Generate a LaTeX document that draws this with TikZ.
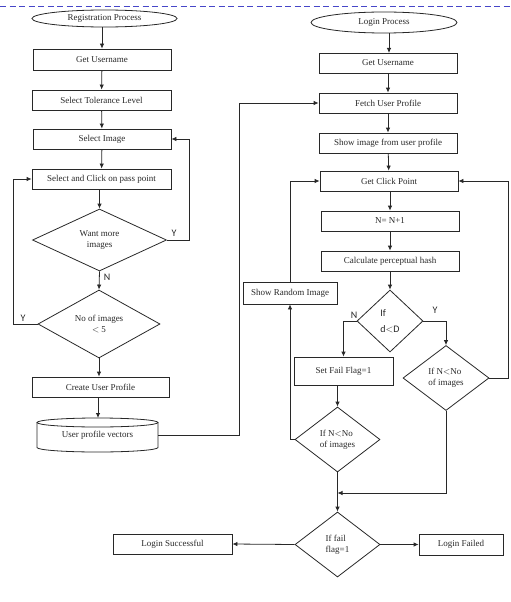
\documentclass[tikz,border=0pt]{standalone}
\usepackage{fontspec}
\setmainfont{Liberation Serif}
\newfontfamily\lblfont{Carlito}
\usetikzlibrary{shapes.geometric,arrows.meta}
\definecolor{linec}{RGB}{40,40,40}
\definecolor{dashblue}{RGB}{70,70,200}
\begin{document}
\begin{tikzpicture}[x=1pt,y=-1pt,
  every node/.style={font=\fontsize{9pt}{11pt}\selectfont, text=linec},
  box/.style={draw=linec, line width=0.8pt, rectangle, inner sep=0pt},
  dia/.style={draw=linec, line width=0.8pt, diamond, inner sep=0pt, align=center},
  ell/.style={draw=linec, line width=0.8pt, ellipse, inner sep=0pt},
  ln/.style={draw=linec, line width=0.8pt},
  arr/.style={draw=linec, line width=0.8pt, -{Latex[length=5pt,width=4.5pt]}},
  lab/.style={font=\lblfont\fontsize{10pt}{12pt}\selectfont, inner sep=0pt}]
\useasboundingbox (0,0) rectangle (511,602);
\draw[dashblue, line width=0.8pt, dash pattern=on 6pt off 3.5pt] (0,6) -- (511,6);

% ---------- Registration ----------
\node[ell, minimum width=145pt, minimum height=17pt] (reg) at (104.5,18.5) {Registration Process};
\node[box, minimum width=138pt, minimum height=21pt] (lgu) at (102,59.5) {Get Username};
\node[box, minimum width=139pt, minimum height=20pt] (tol) at (101.5,100) {Select Tolerance Level};
\node[box, minimum width=138pt, minimum height=20pt] (simg) at (102,139) {Select Image};
\node[box, minimum width=139pt, minimum height=20pt] (click) at (101.5,179) {Select and Click on pass point};
\node[dia, minimum width=134pt, minimum height=62pt] (want) at (99.5,240) {Want more\\images};
\node[dia, minimum width=122pt, minimum height=68pt] (noimg) at (99,324) {No of images\\$<$ 5};
\node[box, minimum width=137pt, minimum height=20pt] (create) at (100.5,387) {Create User Profile};
\node[inner sep=0pt, minimum width=121pt, minimum height=34pt] (cyl) at (97.5,435) {User profile vectors};
\draw[ln] (97.5,422.5) ellipse [x radius=60.5pt, y radius=4.5pt];
\draw[ln] (37,422.5) -- (37,447.5) arc[start angle=180, end angle=360, x radius=60.5pt, y radius=4.5pt] -- (158,422.5);

\draw[arr] (reg.south -| lgu) -- (lgu.north);
\draw[arr] (lgu) -- (tol);
\draw[arr] (tol) -- (simg);
\draw[arr] (simg) -- (click);
\draw[arr] (click.south -| want) -- (want.north);
\draw[arr] (want.south) -- (noimg.north);
\draw[arr] (noimg.south) -- (noimg.south |- create.north);
\draw[arr] (create.south -| 98,0) -- (98,418);
\draw[arr] (want.east) -- ++(22,0) |- (simg.east);
\draw[arr] (noimg.west) -- ++(-24,0) |- (click.west);
\node[lab] (ly1) at (174,233) {Y};
\node[lab] (ln1) at (107,277) {N};
\node[lab] (ly2) at (23,318) {Y};

% ---------- Login ----------
\node[ell, minimum width=146pt, minimum height=21pt] (login) at (384,22.5) {Login Process};
\node[box, minimum width=138pt, minimum height=20pt] (rgu) at (388,63) {Get Username};
\node[box, minimum width=138pt, minimum height=20pt] (fetch) at (388,103) {Fetch User Profile};
\node[box, minimum width=138pt, minimum height=20pt] (show) at (388,143) {Show image from user profile};
\node[box, minimum width=138pt, minimum height=20pt] (gcp) at (389,181) {Get Click Point};
\node[box, minimum width=138pt, minimum height=20pt] (nn) at (390,221) {N= N+1};
\node[box, minimum width=138pt, minimum height=20pt] (calc) at (390,261) {Calculate perceptual hash};
\node[dia, minimum width=66pt, minimum height=62pt, align=left, font=\lblfont\fontsize{10pt}{16pt}\selectfont] (dd) at (390,321) {If\\d$<$D};
\node[box, minimum width=99pt, minimum height=28pt] (sff) at (343.5,371) {Set Fail Flag=1\hspace{12pt}};
\node[dia, minimum width=86pt, minimum height=65pt, align=left] (rdia) at (446,378) {If N$<$No\\of images};
\node[box, minimum width=94pt, minimum height=22pt] (srand) at (290,293) {Show Random Image};
\node[dia, minimum width=85pt, minimum height=65pt, align=left] (ldia) at (337.5,439.5) {If N$<$No\\of images};
\node[dia, minimum width=85pt, minimum height=65pt, align=left] (fail) at (337.5,544.5) {If fail\\flag=1\hspace{6pt}};
\node[box, minimum width=119pt, minimum height=20pt] (lsucc) at (172.5,544) {Login Successful};
\node[box, minimum width=84pt, minimum height=21pt] (lfail) at (461,544.5) {Login Failed};
\coordinate (merge) at (337.5,493);

\draw[arr] (login.south -| 389,0) -- (389,53);
\draw[arr] (rgu) -- (fetch);
\draw[arr] (fetch) -- (show);
\draw[arr] (show) -- (gcp);
\draw[arr] (gcp.south -| nn) -- (nn.north);
\draw[arr] (nn) -- (calc);
\draw[arr] (calc) -- (dd);
\draw[arr] (dd.west) -| (sff.north);
\draw[arr] (dd.east) -| (rdia.north);
\draw[arr] (rdia.east) -- (508,378) |- (gcp.east);
\draw[arr] (sff.south -| ldia) -- (ldia.north);
\draw[arr] (ldia.west) -| (srand.south);
\draw[arr] (srand.north) |- (gcp.west);
\draw[arr] (ldia.south) -- (fail.north);
\draw[arr] (rdia.south) |- (merge);
\draw[arr] (fail.west) -- (lsucc.east);
\draw[arr] (fail.east) -- (lfail.west);
\draw[arr] (cyl.east) -- (239,435) |- (fetch.west);
\node[lab] (ln2) at (354,315) {N};
\node[lab] (ly3) at (435,310) {Y};
\end{tikzpicture}
\end{document}
